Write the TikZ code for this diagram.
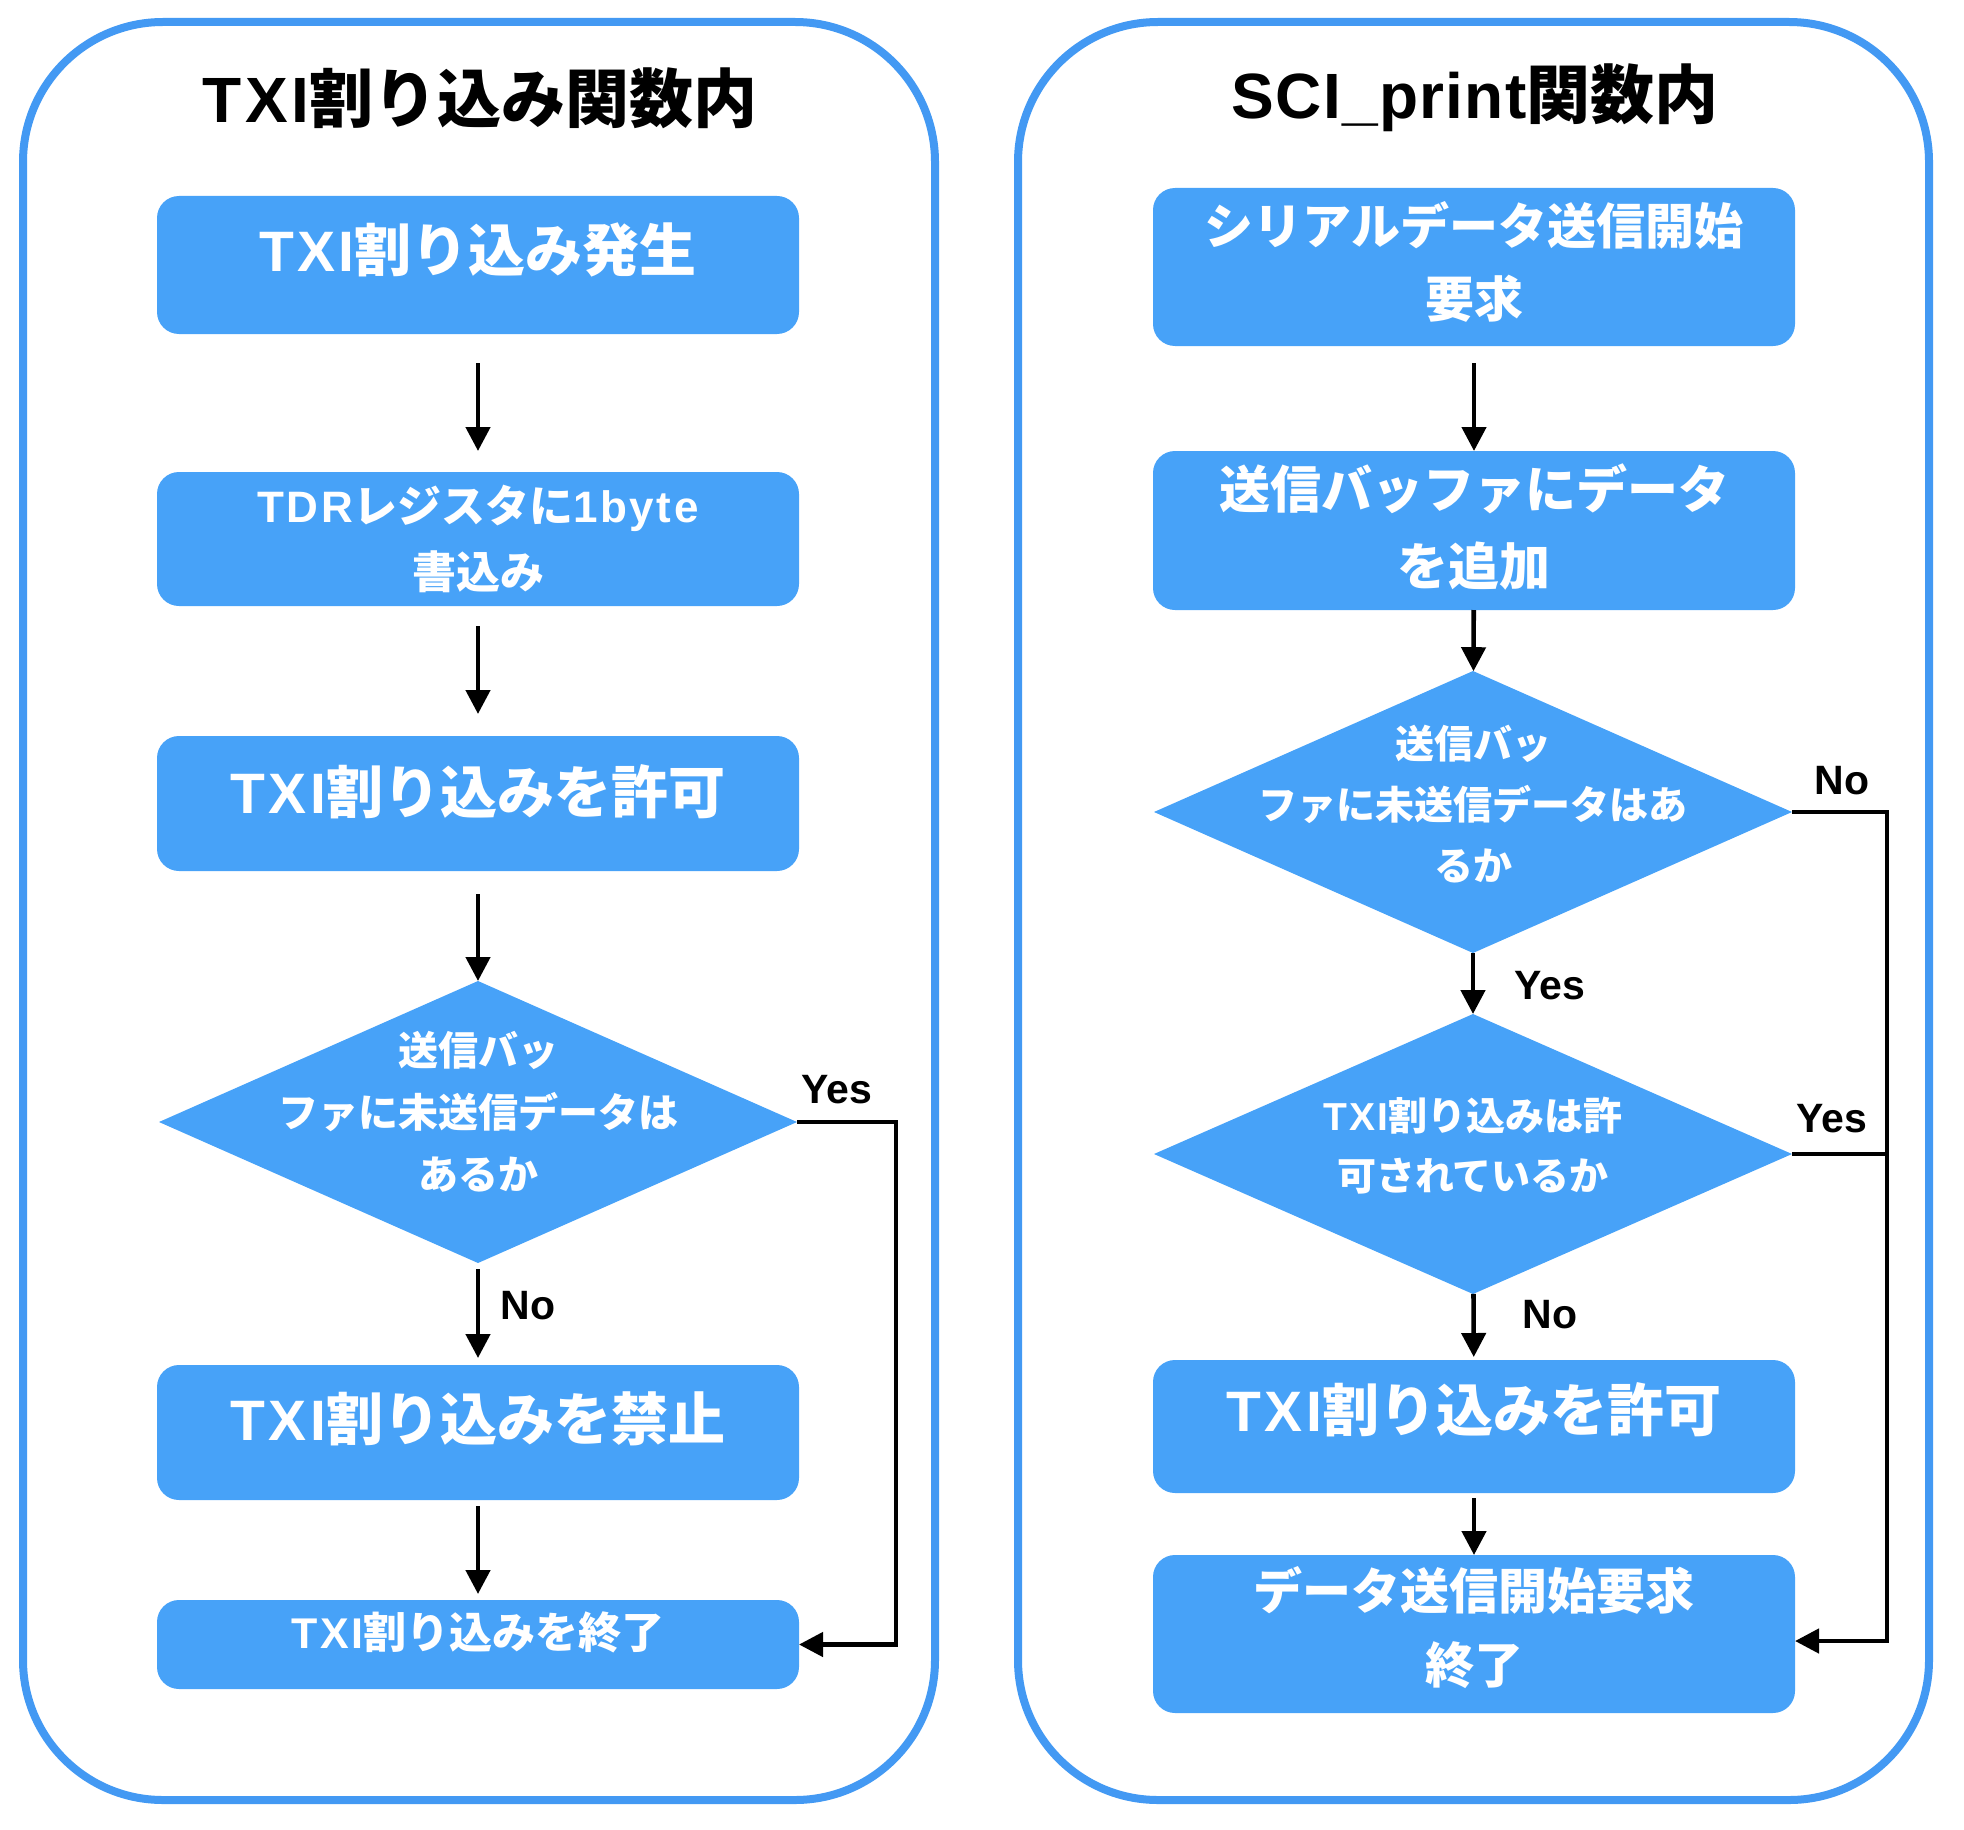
\documentclass[tikz,border=0pt]{standalone}
\usepackage{fontspec}
\setmainfont{Noto Sans CJK JP}
\newfontfamily\la{Liberation Sans}[LetterSpace=6]
\newfontfamily\lc{Liberation Sans}[LetterSpace=2]
\newfontfamily\lb{Liberation Sans}
\usetikzlibrary{arrows.meta,shapes.geometric}
\definecolor{boxblue}{RGB}{71,162,248}
\definecolor{frameblue}{RGB}{67,153,243}
\newcommand\fsz[2]{\fontsize{#1pt}{#2pt}\selectfont}
\begin{document}
\begin{tikzpicture}[x=0.5pt,y=-0.5pt,
  frame/.style={draw=frameblue,line width=4pt,rounded corners=70pt},
  box/.style={rectangle,fill=boxblue,rounded corners=11pt,minimum width=321pt,inner sep=0pt,outer sep=0pt},
  dia/.style={diamond,fill=boxblue,minimum width=319pt,inner sep=0pt,outer sep=0pt},
  txt/.style={text=white,align=center,inner sep=0pt},
  ttl/.style={font=\bfseries\fsz{32}{36},inner sep=0pt},
  lab/.style={font=\lb\bfseries\fsz{20.5}{23},inner sep=0pt},
  arr/.style={draw=black,line width=2.3pt,-{Triangle[length=12pt,width=12pt]}},
  ln/.style={draw=black,line width=2.3pt}]
\useasboundingbox (0,0) rectangle (1964,1830);
% frames
\draw[frame] (23,22) rectangle (935,1800);
\draw[frame] (1018,22) rectangle (1929,1800);
% titles
\node[ttl] (T1) at (480,98) {{\la TXI}割り込み関数内};
\node[ttl] (T2) at (1475,98) {{\lc SCI\_print}関数内};
% left column shapes
\node[box,minimum height=69pt] (A) at (478,265) {};
\node[box,minimum height=67pt] (B) at (478,539) {};
\node[box,minimum height=67.5pt] (C) at (478,803.5) {};
\node[dia,minimum height=141pt] (DL) at (478,1122) {};
\node[box,minimum height=67.5pt] (D) at (478,1432.5) {};
\node[box,minimum height=44.5pt] (E) at (478,1644.5) {};
% left texts
\node[txt,font=\bfseries\fsz{28.5}{34}] (At) at (478,250) {{\la TXI}割り込み発生};
\node[txt,font=\bfseries\fsz{22}{33}] (Bt) at (478,539) {{\la TDR}レジスタに{\la 1byte}\\書込み};
\node[txt,font=\bfseries\fsz{28.5}{34}] (Ct) at (478,792) {{\la TXI}割り込みを許可};
\node[txt,font=\bfseries\fsz{20}{31}] (DLt) at (478,1112) {送信バッ\\ファに未送信データは\\あるか};
\node[txt,font=\bfseries\fsz{28.5}{34}] (Dt) at (478,1419) {{\la TXI}割り込みを禁止};
\node[txt,font=\bfseries\fsz{21.5}{30}] (Et) at (478,1632) {{\la TXI}割り込みを終了};
% right column shapes
\node[box,minimum height=79pt] (R1) at (1474,267) {};
\node[box,minimum height=79.5pt] (R2) at (1474,530.5) {};
\node[dia,minimum height=141pt] (DR1) at (1473,812) {};
\node[dia,minimum height=140pt] (DR2) at (1473,1154) {};
\node[box,minimum height=66.5pt] (R3) at (1474,1426.5) {};
\node[box,minimum height=79pt] (R4) at (1474,1634) {};
% right texts
\node[txt,font=\bfseries\fsz{24.5}{36.5}] (R1t) at (1474,261.5) {シリアルデータ送信開始\\要求};
\node[txt,font=\bfseries\fsz{25.5}{38.5}] (R2t) at (1474,527.5) {送信バッファにデータ\\を追加};
\node[txt,font=\bfseries\fsz{19.5}{30.5}] (DR1t) at (1473,804) {送信バッ\\ファに未送信データはあ\\るか};
\node[txt,font=\bfseries\fsz{19.5}{30}] (DR2t) at (1473,1146) {{\la TXI}割り込みは許\\可されているか};
\node[txt,font=\bfseries\fsz{28.5}{34}] (R3t) at (1474,1410) {{\la TXI}割り込みを許可};
\node[txt,font=\bfseries\fsz{24.5}{37}] (R4t) at (1474,1628) {データ送信開始要求\\終了};
% left connectors
\draw[arr,shorten <=14.5pt,shorten >=10.5pt] (A) -- (B);
\draw[arr,shorten <=10pt,shorten >=11pt] (B) -- (C);
\draw[arr,shorten <=11.5pt] (C) -- (DL);
\draw[arr,shorten <=3pt,shorten >=3.5pt] (DL) -- (D);
\draw[arr,shorten <=3pt,shorten >=3pt] (D) -- (E);
\coordinate (LX) at (896,1122);
\draw[arr] (DL.east) -- (LX) |- (E.east);
\node[lab] (LYes) at (837,1090) {Yes};
\node[lab] (LNo) at (528,1306) {No};
% right connectors
\draw[arr,shorten <=8.5pt] (R1) -- (R2);
\draw[arr] (R2) -- (DR1);
\draw[arr] (DR1) -- (DR2);
\draw[arr,shorten >=1.5pt] (DR2) -- (R3);
\draw[arr,shorten <=2.5pt] (R3) -- (R4);
\coordinate (RX1) at (1887,812);
\coordinate (RX2) at (1887,1154);
\draw[arr] (DR1.east) -- (RX1) |- ([yshift=-3.5pt]R4.east);
\draw[ln] (DR2.east) -- (RX2);
\node[lab] (RNo1) at (1842,781) {No};
\node[lab] (RYes1) at (1550,986) {Yes};
\node[lab] (RYes2) at (1832,1119) {Yes};
\node[lab] (RNo2) at (1550,1315) {No};
\end{tikzpicture}
\end{document}
